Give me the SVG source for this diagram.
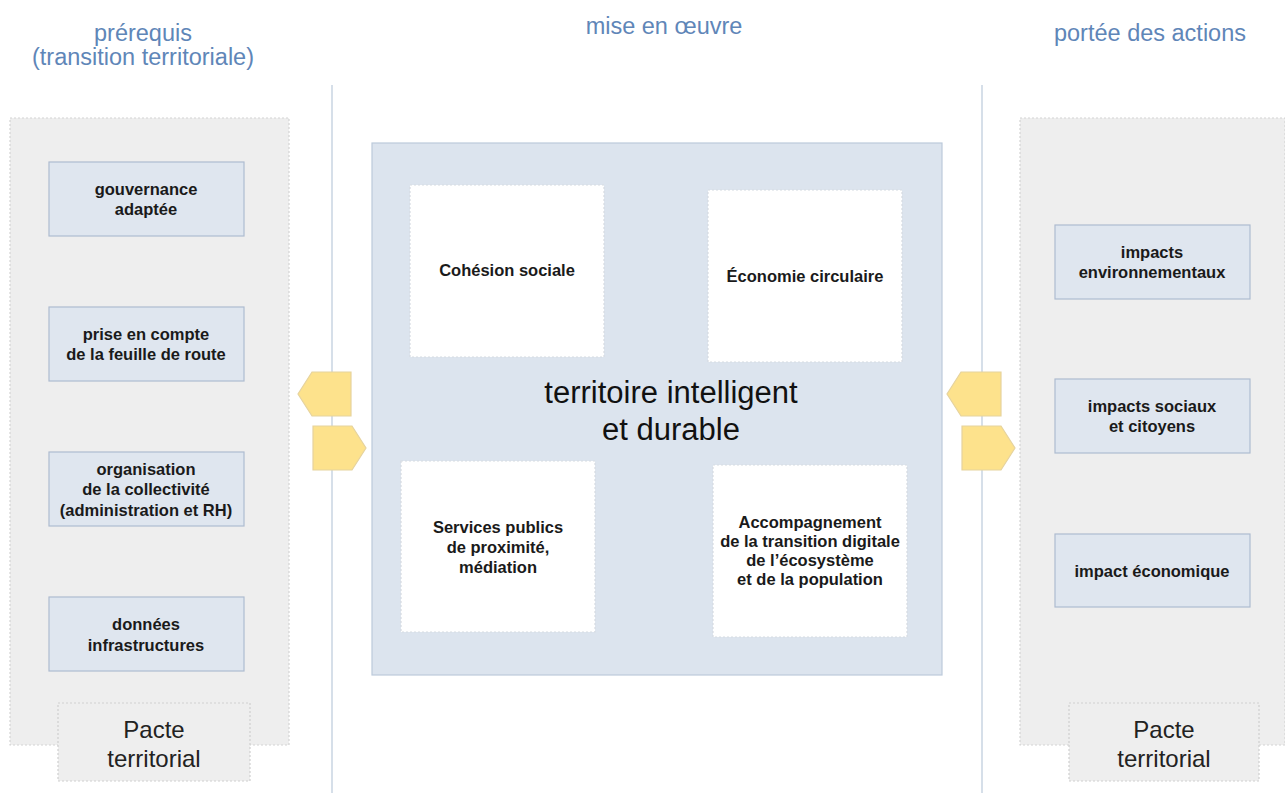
<svg xmlns="http://www.w3.org/2000/svg" width="1285" height="793" viewBox="0 0 1285 793">
<style>
text{font-family:"Liberation Sans",Arial,sans-serif;text-anchor:middle}
.hdr{font-size:23.5px;fill:#5f86b8}
.panel{fill:#eeeeee;stroke:#d4d4d4;stroke-width:1.2;stroke-dasharray:2 2}
.pacte{fill:#eeeeee;stroke:#cfcfcf;stroke-width:1.2;stroke-dasharray:2 2}
.bx{fill:#dfe6ef;stroke:#aebcd0;stroke-width:1.2}
.bt{font-size:16.5px;font-weight:bold;fill:#1a1a1a}
.wb{fill:#ffffff;stroke:#d6dbe2;stroke-width:1.2;stroke-dasharray:2 2}
.big{font-size:31px;fill:#111}
.pt{font-size:24px;fill:#222}
.arr{fill:#fde28c;stroke:#e6d39e;stroke-width:1.2}
.vl{stroke:#c8d4e2;stroke-width:1.5}
</style>
<text class="hdr" x="143" y="41">prérequis</text>
<text class="hdr" x="143" y="65">(transition territoriale)</text>
<text class="hdr" x="664" y="34">mise en œuvre</text>
<text class="hdr" x="1150" y="41">portée des actions</text>

<g id="lines">
<line class="vl" x1="332" y1="85" x2="332" y2="793"/>
<line class="vl" x1="982" y1="85" x2="982" y2="793"/>
</g>

<g id="left-panel"><rect class="panel" x="10" y="118" width="279" height="627"/></g>
<g id="right-panel"><rect class="panel" x="1020" y="118" width="265" height="627"/></g>

<g id="gouvernance"><rect class="bx" x="49" y="162" width="195" height="74"/>
<text class="bt" x="146" y="195">gouvernance</text><text class="bt" x="146" y="215">adaptée</text></g>
<g id="feuille"><rect class="bx" x="49" y="307" width="195" height="74"/>
<text class="bt" x="146" y="340">prise en compte</text><text class="bt" x="146" y="360">de la feuille de route</text></g>
<g id="organisation"><rect class="bx" x="49" y="452" width="195" height="74"/>
<text class="bt" x="146" y="475">organisation</text><text class="bt" x="146" y="495">de la collectivité</text><text class="bt" x="146" y="516">(administration et RH)</text></g>
<g id="donnees"><rect class="bx" x="49" y="597" width="195" height="74"/>
<text class="bt" x="146" y="630">données</text><text class="bt" x="146" y="651">infrastructures</text></g>

<g id="pacte-left"><rect class="pacte" x="58" y="703" width="192" height="78"/>
<text class="pt" x="154" y="738">Pacte</text><text class="pt" x="154" y="767">territorial</text></g>

<g id="impacts-env"><rect class="bx" x="1055" y="225" width="195" height="74"/>
<text class="bt" x="1152" y="258">impacts</text><text class="bt" x="1152" y="278">environnementaux</text></g>
<g id="impacts-soc"><rect class="bx" x="1055" y="379" width="195" height="74"/>
<text class="bt" x="1152" y="412">impacts sociaux</text><text class="bt" x="1152" y="432">et citoyens</text></g>
<g id="impact-eco"><rect class="bx" x="1055" y="534" width="195" height="73"/>
<text class="bt" x="1152" y="577">impact économique</text></g>

<g id="pacte-right"><rect class="pacte" x="1069" y="703" width="190" height="78"/>
<text class="pt" x="1164" y="738">Pacte</text><text class="pt" x="1164" y="767">territorial</text></g>

<g id="centre"><rect x="372" y="143" width="570" height="532" fill="#dce4ee" stroke="#bccadb" stroke-width="1.2"/>
<text class="big" x="671" y="403">territoire intelligent</text>
<text class="big" x="671" y="440">et durable</text></g>

<g id="cohesion"><rect class="wb" x="410" y="185" width="194" height="172"/>
<text class="bt" x="507" y="276">Cohésion sociale</text></g>
<g id="economie"><rect class="wb" x="708" y="190" width="194" height="172"/>
<text class="bt" x="805" y="282">Économie circulaire</text></g>
<g id="services"><rect class="wb" x="401" y="461" width="194" height="171"/>
<text class="bt" x="498" y="533">Services publics</text><text class="bt" x="498" y="553">de proximité,</text><text class="bt" x="498" y="573">médiation</text></g>
<g id="accompagnement"><rect class="wb" x="713" y="465" width="194" height="172"/>
<text class="bt" x="810" y="528">Accompagnement</text><text class="bt" x="810" y="547">de la transition digitale</text><text class="bt" x="810" y="566">de l’écosystème</text><text class="bt" x="810" y="585">et de la population</text></g>

<g id="connectors">
<polygon class="arr" points="312,372 351,372 351,416 312,416 298,394"/>
<polygon class="arr" points="313,426 352,426 366,448 352,470 313,470"/>
<polygon class="arr" points="961,372 1001,372 1001,416 961,416 947,394"/>
<polygon class="arr" points="962,426 1001,426 1015,448 1001,470 962,470"/>
</g>
</svg>
